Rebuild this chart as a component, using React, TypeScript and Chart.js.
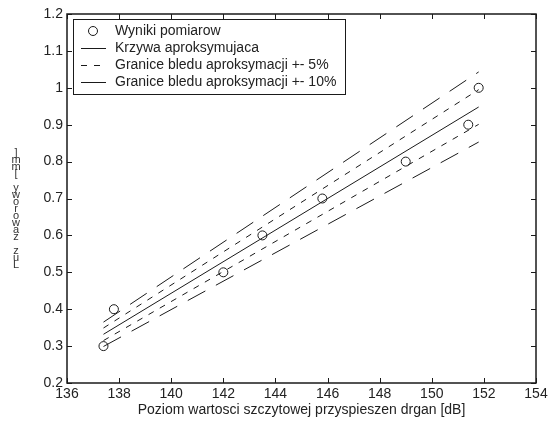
import React, { useEffect, useRef } from 'react';
import { Chart, registerables } from 'chart.js';

Chart.register(...registerables);

// Measurement points
const measX = [137.4, 137.8, 142, 143.5, 145.8, 149, 151.4, 151.8];
const measY = [0.3, 0.4, 0.5, 0.6, 0.7, 0.8, 0.9, 1.0];

// Approximation line and error bounds (end points)
const fitX = [137.4, 151.8];
const fitY = [0.332, 0.948];
const upper5Y = [0.349, 0.995];
const lower5Y = [0.315, 0.901];
const upper10Y = [0.365, 1.043];
const lower10Y = [0.299, 0.853];

// Axes
const xTickValues = [136, 138, 140, 142, 144, 146, 148, 150, 152, 154];
const xTickLabels = ['136', '138', '140', '142', '144', '146', '148', '150', '152', '154'];
const yTickValues = [0.2, 0.3, 0.4, 0.5, 0.6, 0.7, 0.8, 0.9, 1.0, 1.1, 1.2];
const yTickLabels = ['0.2', '0.3', '0.4', '0.5', '0.6', '0.7', '0.8', '0.9', '1', '1.1', '1.2'];

const legendLabels = [
  'Wyniki pomiarow',
  'Krzywa aproksymujaca',
  'Granice bledu aproksymacji +- 5%',
  'Granice bledu aproksymacji +- 10%',
];
const xTitle = 'Poziom wartosci szczytowej przyspieszen drgan [dB]';
const yTitle = 'Luz zaworowy [mm]';

const FONT = 'Arial, "Liberation Sans", Helvetica, sans-serif';
const INK = '#1a1a1a';
const TEXT = '#222222';
const DASH5 = [6, 7];
const DASH10 = [20, 12];

const toPts = (xs: number[], ys: number[]) => xs.map((x, i) => ({ x, y: ys[i] }));

const framePlugin = {
  id: 'matlabFrame',
  afterDraw(chart: any) {
    const { ctx, chartArea: a, scales } = chart;
    const xs = scales.x;
    const ys = scales.y;
    ctx.save();
    // frame
    ctx.strokeStyle = INK;
    ctx.lineWidth = 1.5;
    ctx.strokeRect(a.left, a.top, a.right - a.left, a.bottom - a.top);
    // inner ticks on all sides
    const tl = 5;
    ctx.lineWidth = 1;
    ctx.beginPath();
    xTickValues.forEach((v) => {
      const px = Math.round(xs.getPixelForValue(v)) + 0.5;
      ctx.moveTo(px, a.bottom);
      ctx.lineTo(px, a.bottom - tl);
      ctx.moveTo(px, a.top);
      ctx.lineTo(px, a.top + tl);
    });
    yTickValues.forEach((v) => {
      const py = Math.round(ys.getPixelForValue(v)) + 0.5;
      ctx.moveTo(a.left, py);
      ctx.lineTo(a.left + tl, py);
      ctx.moveTo(a.right, py);
      ctx.lineTo(a.right - tl, py);
    });
    ctx.stroke();

    // legend box
    const lx = 73.5, ly = 19.5, lw = 272, lh = 75;
    ctx.fillStyle = '#ffffff';
    ctx.fillRect(lx, ly, lw, lh);
    ctx.strokeStyle = INK;
    ctx.lineWidth = 1;
    ctx.strokeRect(lx, ly, lw, lh);
    ctx.font = '14px ' + FONT;
    ctx.textBaseline = 'middle';
    ctx.textAlign = 'left';
    legendLabels.forEach((label, i) => {
      const y = 31 + i * 17;
      ctx.strokeStyle = INK;
      ctx.lineWidth = 1;
      if (i === 0) {
        ctx.beginPath();
        ctx.arc(93, y, 4.5, 0, Math.PI * 2);
        ctx.stroke();
      } else {
        ctx.setLineDash(i === 2 ? DASH5 : []);
        ctx.beginPath();
        ctx.moveTo(81, Math.round(y) + 0.5);
        ctx.lineTo(106, Math.round(y) + 0.5);
        ctx.stroke();
        ctx.setLineDash([]);
      }
      ctx.fillStyle = TEXT;
      ctx.fillText(label, 115, y);
    });

    // y label: upright characters stacked bottom-to-top
    ctx.font = '11px ' + FONT;
    ctx.fillStyle = '#333333';
    ctx.textAlign = 'center';
    const chars = yTitle.split('');
    const yBottom = 265;
    const step = 7;
    chars.forEach((ch, i) => {
      ctx.fillText(ch, 16, yBottom - i * step);
    });
    ctx.restore();
  },
};

export default function App() {
  const ref = useRef<HTMLCanvasElement | null>(null);

  useEffect(() => {
    if (!ref.current) return;
    const lineDs = (label: string, ys: number[], dash: number[]) => ({
      label,
      data: toPts(fitX, ys),
      showLine: true,
      borderColor: INK,
      borderWidth: 1,
      borderDash: dash,
      pointRadius: 0,
      fill: false,
    });
    const chart = new Chart(ref.current, {
      type: 'scatter',
      data: {
        datasets: [
          {
            label: legendLabels[0],
            data: toPts(measX, measY),
            showLine: false,
            pointRadius: 4.5,
            pointBorderWidth: 1,
            pointBorderColor: INK,
            pointBackgroundColor: 'rgba(0,0,0,0)',
            order: 0,
          } as any,
          { ...lineDs(legendLabels[1], fitY, []), order: 1 },
          { ...lineDs(legendLabels[2], upper5Y, DASH5), order: 2 },
          { ...lineDs(legendLabels[2], lower5Y, DASH5), order: 2 },
          { ...lineDs(legendLabels[3], upper10Y, DASH10), order: 3 },
          { ...lineDs(legendLabels[3], lower10Y, DASH10), order: 3 },
        ],
      },
      options: {
        responsive: false,
        animation: false,
        devicePixelRatio: 1,
        layout: { padding: { top: 14, right: 17, left: 0, bottom: 0 } },
        plugins: { legend: { display: false }, tooltip: { enabled: false } },
        scales: {
          x: {
            type: 'linear',
            min: 136,
            max: 154,
            afterBuildTicks: (s: any) => {
              s.ticks = xTickValues.map((v) => ({ value: v }));
            },
            afterFit: (s: any) => {
              s.height = 38;
            },
            grid: { display: false, drawTicks: false },
            border: { display: false },
            ticks: {
              autoSkip: false,
              maxRotation: 0,
              padding: 3,
              color: TEXT,
              font: { family: FONT, size: 14 },
              callback: (_v: any, i: number) => xTickLabels[i],
            },
            title: {
              display: true,
              text: xTitle,
              color: TEXT,
              font: { family: FONT, size: 14 },
              padding: { top: 0, bottom: 2 },
            },
          },
          y: {
            type: 'linear',
            min: 0.2,
            max: 1.2,
            afterBuildTicks: (s: any) => {
              s.ticks = yTickValues.map((v) => ({ value: v }));
            },
            afterFit: (s: any) => {
              s.width = 67;
            },
            grid: { display: false, drawTicks: false },
            border: { display: false },
            ticks: {
              autoSkip: false,
              padding: 4,
              color: TEXT,
              font: { family: FONT, size: 14 },
              callback: (_v: any, i: number) => yTickLabels[i],
            },
          },
        },
      } as any,
      plugins: [framePlugin],
    });
    return () => chart.destroy();
  }, []);

  return (
    <div style={{ position: 'absolute', left: 0, top: 0, width: 553, height: 421, background: '#fff' }}>
      <canvas ref={ref} width={553} height={421} style={{ display: 'block' }} />
    </div>
  );
}
